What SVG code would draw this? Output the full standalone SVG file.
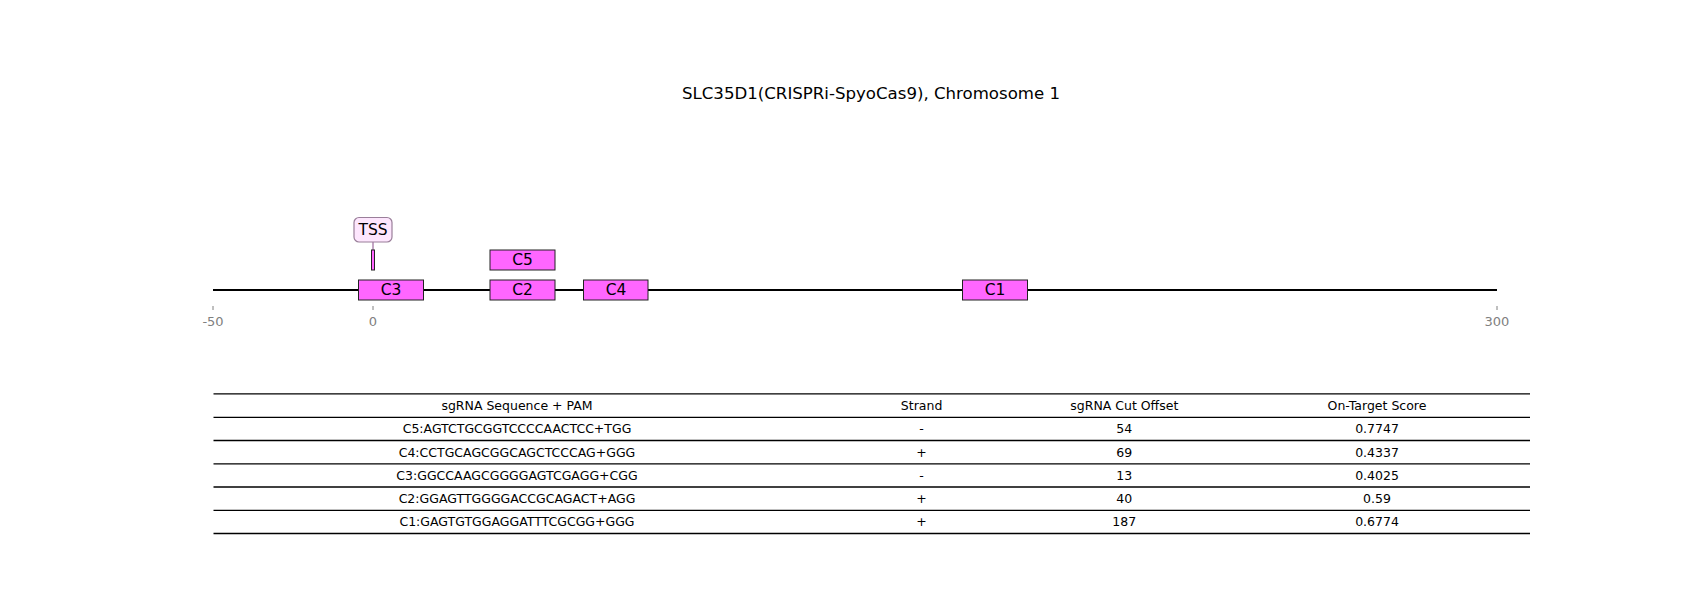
<svg xmlns="http://www.w3.org/2000/svg" width="1700" height="600" viewBox="0 0 1700 600">
  <style>
    text { font-family: "DejaVu Sans", "Liberation Sans", sans-serif; }
    .title { font-size: 16.6px; fill: #000; }
    .feat { fill: #ff66ff; stroke: #222; stroke-width: 1; }
    .flabel { font-size: 15.5px; fill: #000; text-anchor: middle; dominant-baseline: central; }
    .tick { stroke: #808080; stroke-width: 1; }
    .ticklbl { font-size: 13px; fill: #808080; text-anchor: middle; dominant-baseline: central; }
    .rule { stroke: #000; stroke-width: 1.3; }
    .cell { font-size: 12.5px; fill: #000; text-anchor: middle; dominant-baseline: central; }
  </style>

  <rect width="1700" height="600" fill="#fff"/>

  <text class="title" x="871" y="93" text-anchor="middle" dominant-baseline="central">SLC35D1(CRISPRi-SpyoCas9), Chromosome 1</text>

  <!-- sequence backbone and axis -->
  <g id="backbone">
    <line x1="213" y1="290" x2="1497" y2="290" stroke="#000" stroke-width="2"/>
    <line class="tick" x1="213" y1="306" x2="213" y2="310"/>
    <line class="tick" x1="373" y1="306" x2="373" y2="310"/>
    <line class="tick" x1="1497" y1="306" x2="1497" y2="310"/>
    <text class="ticklbl" x="213" y="321">-50</text>
    <text class="ticklbl" x="373" y="321">0</text>
    <text class="ticklbl" x="1497" y="321">300</text>
  </g>

  <!-- TSS label connector -->
  <g id="connectors">
    <line x1="373" y1="242" x2="373" y2="250" stroke="#8a4a8a" stroke-width="1"/>
  </g>

  <g id="tss">
    <rect class="feat" x="371.5" y="250" width="3" height="20"/>
    <rect x="354" y="217.5" width="38" height="24.5" rx="5" ry="5" fill="#fde6fd" stroke="#9a7f9a" stroke-width="1.2"/>
    <text class="flabel" x="373" y="229.5">TSS</text>
  </g>

  <g id="C5">
    <rect class="feat" x="490" y="250" width="65" height="20"/>
    <text class="flabel" x="522.5" y="260">C5</text>
  </g>
  <g id="C3">
    <rect class="feat" x="358.5" y="280" width="65" height="20"/>
    <text class="flabel" x="391" y="290">C3</text>
  </g>
  <g id="C2">
    <rect class="feat" x="490" y="280" width="65" height="20"/>
    <text class="flabel" x="522.5" y="290">C2</text>
  </g>
  <g id="C4">
    <rect class="feat" x="583.5" y="280" width="64.5" height="20"/>
    <text class="flabel" x="616" y="290">C4</text>
  </g>
  <g id="C1">
    <rect class="feat" x="962.5" y="280" width="65" height="20"/>
    <text class="flabel" x="995" y="290">C1</text>
  </g>

  <!-- guide table -->
  <g id="table">
    <line class="rule" x1="213.5" y1="393.8" x2="1530" y2="393.8"/>
    <line class="rule" x1="213.5" y1="417.3" x2="1530" y2="417.3"/>
    <line class="rule" x1="213.5" y1="440.5" x2="1530" y2="440.5"/>
    <line class="rule" x1="213.5" y1="463.8" x2="1530" y2="463.8"/>
    <line class="rule" x1="213.5" y1="487" x2="1530" y2="487"/>
    <line class="rule" x1="213.5" y1="510.3" x2="1530" y2="510.3"/>
    <line class="rule" x1="213.5" y1="533.5" x2="1530" y2="533.5"/>

    <text class="cell" x="517" y="405.5">sgRNA Sequence + PAM</text>
    <text class="cell" x="921.6" y="405.5">Strand</text>
    <text class="cell" x="1124.3" y="405.5">sgRNA Cut Offset</text>
    <text class="cell" x="1377" y="405.5">On-Target Score</text>

    <text class="cell" x="517" y="428.9">C5:AGTCTGCGGTCCCCAACTCC+TGG</text>
    <text class="cell" x="921.6" y="428.9">-</text>
    <text class="cell" x="1124.3" y="428.9">54</text>
    <text class="cell" x="1377" y="428.9">0.7747</text>

    <text class="cell" x="517" y="452.1">C4:CCTGCAGCGGCAGCTCCCAG+GGG</text>
    <text class="cell" x="921.6" y="452.1">+</text>
    <text class="cell" x="1124.3" y="452.1">69</text>
    <text class="cell" x="1377" y="452.1">0.4337</text>

    <text class="cell" x="517" y="475.4">C3:GGCCAAGCGGGGAGTCGAGG+CGG</text>
    <text class="cell" x="921.6" y="475.4">-</text>
    <text class="cell" x="1124.3" y="475.4">13</text>
    <text class="cell" x="1377" y="475.4">0.4025</text>

    <text class="cell" x="517" y="498.7">C2:GGAGTTGGGGACCGCAGACT+AGG</text>
    <text class="cell" x="921.6" y="498.7">+</text>
    <text class="cell" x="1124.3" y="498.7">40</text>
    <text class="cell" x="1377" y="498.7">0.59</text>

    <text class="cell" x="517" y="521.9">C1:GAGTGTGGAGGATTTCGCGG+GGG</text>
    <text class="cell" x="921.6" y="521.9">+</text>
    <text class="cell" x="1124.3" y="521.9">187</text>
    <text class="cell" x="1377" y="521.9">0.6774</text>
  </g>
</svg>
